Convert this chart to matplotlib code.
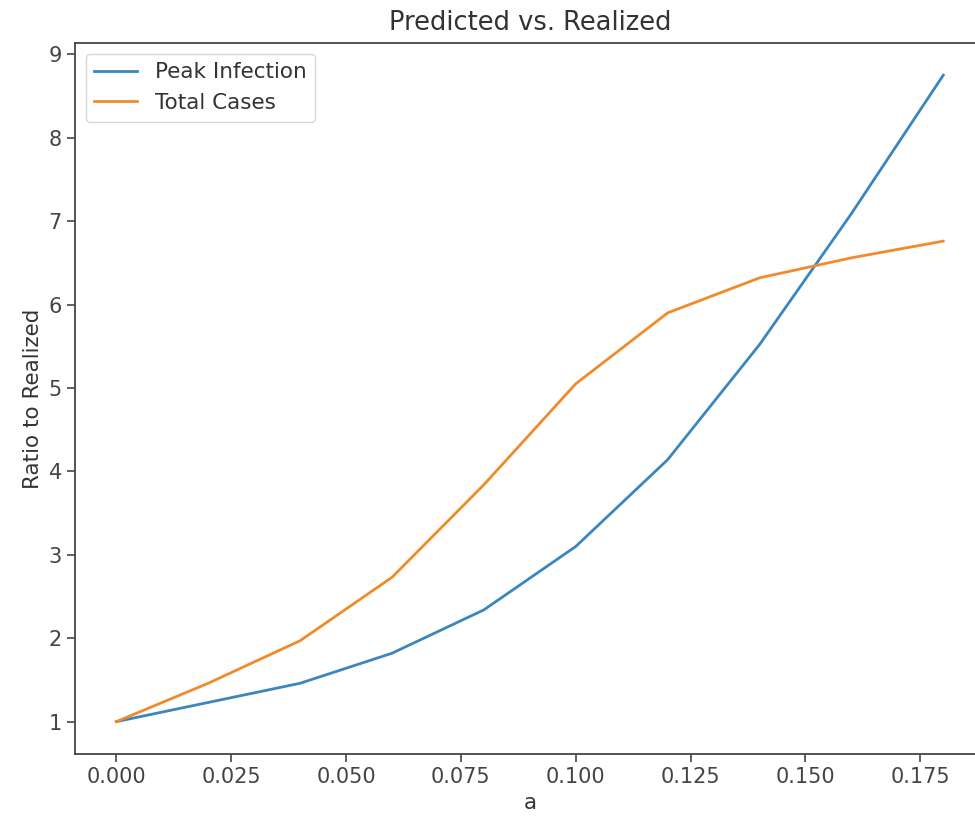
import numpy as np
import matplotlib
matplotlib.use("Agg")
import matplotlib.pyplot as plt

a = [0.0, 0.02, 0.04, 0.06, 0.08, 0.10, 0.12, 0.14, 0.16, 0.18]
peak_infection = [1.0, 1.23, 1.46, 1.82, 2.34, 3.10, 4.14, 5.52, 7.09, 8.75]
total_cases = [1.0, 1.46, 1.97, 2.73, 3.84, 5.05, 5.90, 6.32, 6.56, 6.76]

fig = plt.figure(figsize=(9.75, 8.25), dpi=100)
ax = fig.add_axes([0.0769, 0.0861, 0.933, 0.862])

ax.plot(a, peak_infection, label='Peak Infection', lw=2.0, color='#3a86bd')
ax.plot(a, total_cases, label='Total Cases', lw=2.0, color='#f08a2a')

ax.set_title('Predicted vs. Realized', fontsize=18.5, pad=9, color='#333333')
ax.set_xlabel('a', fontsize=15.5, color='#333333')
ax.set_ylabel('Ratio to Realized', fontsize=15.5, color='#333333')
ax.tick_params(labelsize=15, length=6, width=1.2, colors='#444444')
for s in ax.spines.values():
    s.set_linewidth(1.3)
    s.set_color('#444444')
leg = ax.legend(fontsize=15.5, loc='upper left')
for t in leg.get_texts():
    t.set_color('#333333')

fig.savefig('out.png', dpi=100)
